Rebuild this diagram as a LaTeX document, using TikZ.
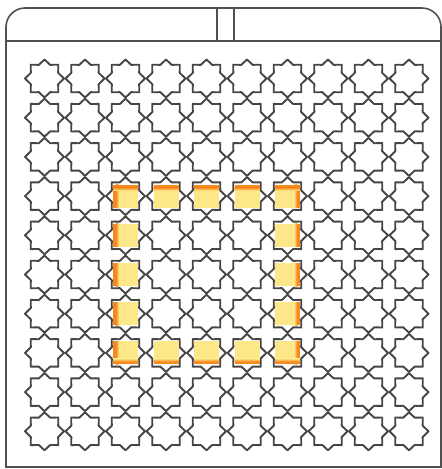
\documentclass[tikz,border=0pt]{standalone}
\usetikzlibrary{calc}
\definecolor{lineg}{HTML}{454545}
\definecolor{frameg}{HTML}{505050}
\definecolor{hlyellow}{HTML}{FCE888}
\definecolor{hlorange}{HTML}{F68A1E}
\tikzset{
  starline/.style={draw=lineg, line width=1.9pt, line join=round},
  frameline/.style={draw=frameg, line width=1.6pt},
  starpic/.pic={
    \draw[starline] (90:19) -- (67.5:14.8) -- (45:19.5) -- (22.5:14.8) -- (0:19.5) -- (-22.5:14.8) -- (-45:19.5) -- (-67.5:14.8) -- (-90:19) -- (-112.5:14.8) -- (-135:19.5) -- (-157.5:14.8) -- (180:19.5) -- (157.5:14.8) -- (135:19.5) -- (112.5:14.8) -- cycle;
  }
}
\newcommand{\hlsq}[6]{%
  \begin{scope}[shift={({44.5+40.5*#1},{78.5+39.2*#2})}]
    \fill[hlyellow] (-12.5,-11.5) rectangle (12.5,11.5);
    \ifnum#3=1 \fill[hlorange] (-12.5,-11.5) rectangle (-9.5,11.5);
      \shade[left color=hlorange, right color=hlyellow] (-9.6,-11.5) rectangle (-6.5,11.5);\fi
    \ifnum#4=1 \fill[hlorange] (9.5,-11.5) rectangle (12.5,11.5);
      \shade[right color=hlorange, left color=hlyellow] (6.5,-11.5) rectangle (9.6,11.5);\fi
    \ifnum#5=1 \fill[hlorange] (-12.5,-11.5) rectangle (12.5,-8.5);
      \shade[top color=hlorange, bottom color=hlyellow] (-12.5,-8.6) rectangle (12.5,-5.5);\fi
    \ifnum#6=1 \fill[hlorange] (-12.5,8.5) rectangle (12.5,11.5);
      \shade[bottom color=hlorange, top color=hlyellow] (-12.5,5.5) rectangle (12.5,8.6);\fi
  \end{scope}}
\begin{document}
\begin{tikzpicture}[x=1pt,y=-1pt]
\useasboundingbox (0,0) rectangle (442,469);
% frame
\draw[frameline] (6,467) -- (6,27) arc[start angle=180,end angle=270,radius=19] -- (422,8) arc[start angle=270,end angle=360,radius=19] -- (441,467) -- cycle;
\draw[frameline] (6,41) -- (441,41);
\draw[frameline] (217,8) rectangle (234,41);
% stars
\foreach \i in {0,...,9}{
  \foreach \j in {0,...,9}{
    \pic at ({44.5+40.5*\i},{78.5+39.2*\j}) {starpic};
  }
}
% top row (row 3)
\hlsq{2}{3}{1}{0}{1}{0}
\hlsq{3}{3}{0}{0}{1}{0}
\hlsq{4}{3}{0}{0}{1}{0}
\hlsq{5}{3}{0}{0}{1}{0}
\hlsq{6}{3}{0}{1}{1}{0}
% sides
\foreach \r in {4,5,6}{
  \hlsq{2}{\r}{1}{0}{0}{0}
  \hlsq{6}{\r}{0}{1}{0}{0}
}
% bottom row (row 7)
\hlsq{2}{7}{1}{0}{0}{1}
\hlsq{3}{7}{0}{0}{0}{1}
\hlsq{4}{7}{0}{0}{0}{1}
\hlsq{5}{7}{0}{0}{0}{1}
\hlsq{6}{7}{0}{1}{0}{1}
\end{tikzpicture}
\end{document}
